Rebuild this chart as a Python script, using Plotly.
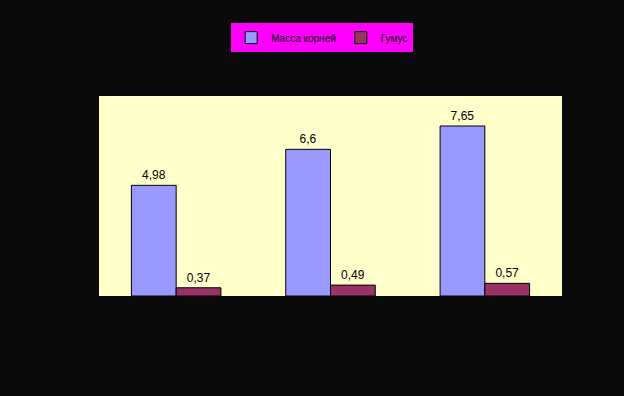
import plotly.graph_objects as go

categories = ["1", "2", "3"]
massa = [4.98, 6.6, 7.65]
gumus = [0.37, 0.49, 0.57]
massa_labels = ["4,98", "6,6", "7,65"]
gumus_labels = ["0,37", "0,49", "0,57"]

fig = go.Figure()
fig.add_trace(go.Bar(x=categories, y=massa, name="Масса корней",
                     marker=dict(color="#9999FF", line=dict(color="#000000", width=1)),
                     text=massa_labels, textposition="outside", cliponaxis=False,
                     textfont=dict(color="#000000", size=12, family="Liberation Sans Narrow, Arial")))
fig.add_trace(go.Bar(x=categories, y=gumus, name="Гумус",
                     marker=dict(color="#993366", line=dict(color="#000000", width=1)),
                     text=gumus_labels, textposition="outside", cliponaxis=False,
                     textfont=dict(color="#000000", size=12, family="Liberation Sans Narrow, Arial")))

fig.update_layout(
    width=624, height=396,
    paper_bgcolor="#0a0a0a", plot_bgcolor="#FFFFCC",
    margin=dict(l=99, r=62, t=96, b=100),
    barmode="group", bargap=0.42, bargroupgap=0,
    showlegend=True,
    legend=dict(orientation="h", x=0.482, xref="paper", xanchor="center",
                y=0.905, yref="container", yanchor="middle",
                bgcolor="#FF00FF", bordercolor="#000000", borderwidth=0,
                font=dict(size=10, color="#000000", family="Liberation Sans Narrow, Arial"),
                itemwidth=30, tracegroupgap=0),
    xaxis=dict(showticklabels=False, showgrid=False, zeroline=False,
               showline=False, ticks=""),
    yaxis=dict(range=[0, 9], showticklabels=False, showgrid=False, zeroline=False,
               showline=False, ticks=""),
    font=dict(family="Liberation Sans Narrow, Arial"),
)

fig.write_html("out.html", config={"displayModeBar": False},
               post_script="document.body.style.margin='0';document.body.style.background='#0a0a0a';")
